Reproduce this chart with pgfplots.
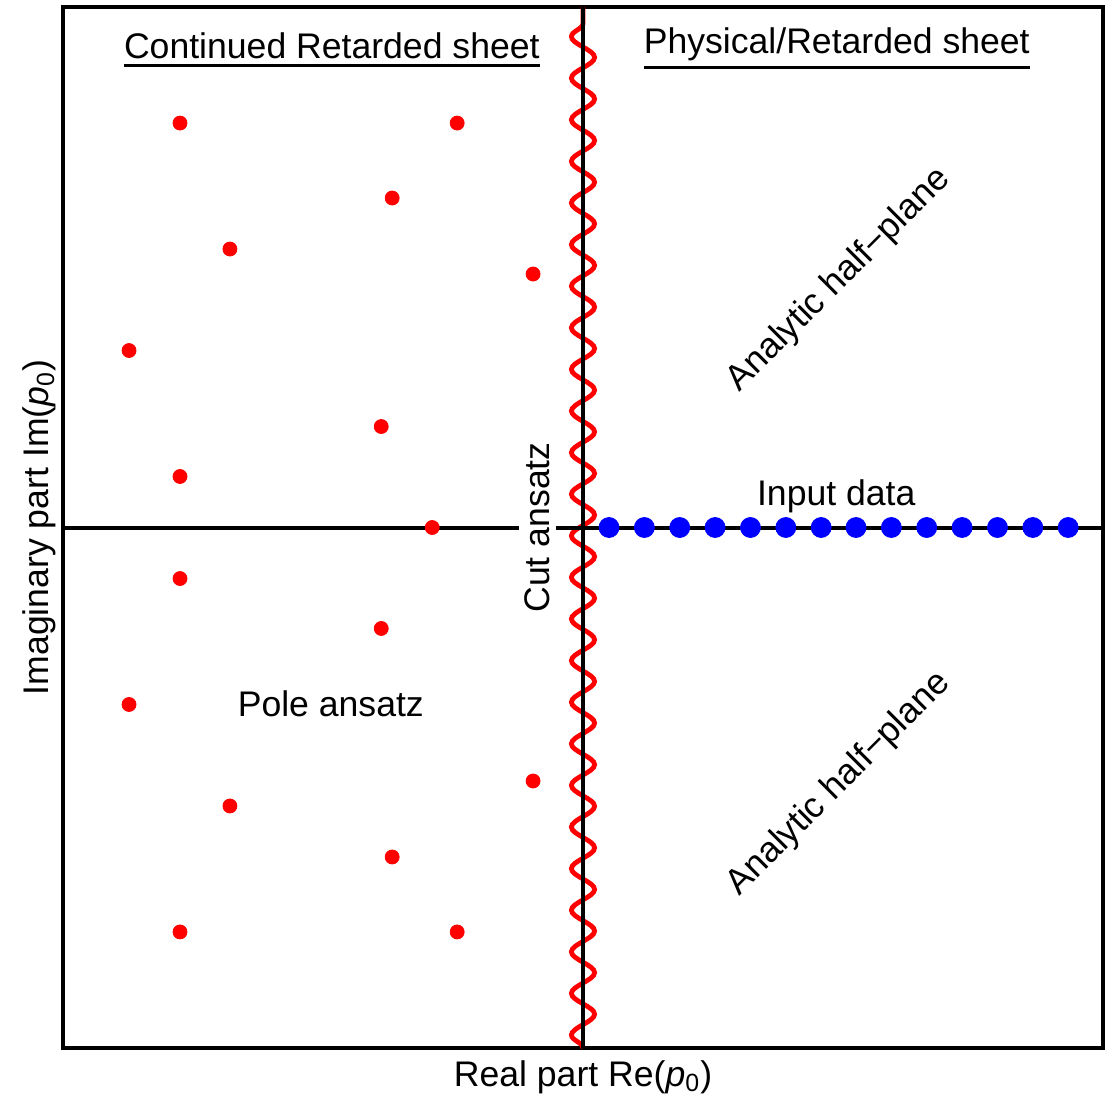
\documentclass[border=0pt]{standalone}
\usepackage{fontspec}
\setmainfont{Liberation Sans}
\usepackage{pgfplots}
\pgfplotsset{compat=1.18}
\usetikzlibrary{decorations.pathmorphing}

\newcommand{\labelfont}{\fontsize{17.8}{21}\selectfont}
% underline set just below the text's depth
\newcommand{\ul}[1]{\setbox0=\hbox{#1}\vtop{\copy0\kern2.5pt\hrule height 1.5pt}}

\begin{document}
\begin{tikzpicture}
\begin{axis}[
  name=ax,
  scale only axis,
  width=520pt, height=520.5pt,
  xmin=-1, xmax=1, ymin=-1, ymax=1,
  xtick=\empty, ytick=\empty,
  axis line style={line width=1.75pt},
  label style={font=\labelfont},
  xlabel={Real part Re(\textit{p}\textsubscript{0})},
  ylabel={Imaginary part Im(\textit{p}\textsubscript{0})},
  xlabel style={at={(axis description cs:0.5,-0.0365)}, anchor=base},
  ylabel style={at={(axis description cs:-0.0138,0.5)}, anchor=base},
]
% branch cut along the imaginary axis
\addplot[red, line width=2.4pt, decorate,
  decoration={snake, amplitude=5.8pt, segment length=20.8pt}]
  coordinates {(0,-1) (0,1)};
% real and imaginary axes
\addplot[black, line width=2pt] coordinates {(0,-1) (0,1)};
\addplot[black, line width=2pt] coordinates {(-1,0) (1,0)};

\node[font=\labelfont, rotate=90, anchor=base, fill=white, inner sep=3pt]
  at (axis cs:-0.0635,0) {Cut ansatz};

% poles on the continued sheet
\addplot[only marks, mark=*, mark size=3.5pt, color=red, mark options={draw=none, fill=red}]
  coordinates {
  (-0.775,0.777) (-0.242,0.777) (-0.367,0.633) (-0.679,0.535)
  (-0.096,0.487) (-0.873,0.340) (-0.388,0.194) (-0.775,0.098)
  (-0.290,0.000)
  (-0.775,-0.098) (-0.388,-0.194) (-0.873,-0.340) (-0.096,-0.487)
  (-0.679,-0.535) (-0.367,-0.633) (-0.775,-0.777) (-0.242,-0.777)
  };

% input data on the real axis
\addplot[only marks, mark=*, mark size=5pt, color=blue, mark options={draw=none, fill=blue}]
  coordinates {
  (0.050,0) (0.118,0) (0.186,0) (0.254,0) (0.322,0) (0.390,0) (0.458,0)
  (0.525,0) (0.593,0) (0.661,0) (0.729,0) (0.797,0) (0.865,0) (0.933,0)
  };

\node[font=\labelfont, anchor=base] at (axis cs:-0.483,0.901) {\ul{Continued Retarded sheet}};
\node[font=\labelfont, anchor=base] at (axis cs:0.488,0.910) {\ul{Physical/Retarded sheet}};
\node[font=\labelfont, anchor=base] at (axis cs:0.487,0.043) {Input data};
\node[font=\labelfont, anchor=base] at (axis cs:-0.485,-0.3635) {Pole ansatz};
\node[font=\labelfont, rotate=45] at (axis cs:0.492,0.475) {Analytic half−plane};
\node[font=\labelfont, rotate=45] at (axis cs:0.492,-0.493) {Analytic half−plane};
\end{axis}
\pgfresetboundingbox
\path ([xshift=-31.5pt,yshift=-25pt]ax.south west) rectangle ([xshift=3.5pt,yshift=3.5pt]ax.north east);
\end{tikzpicture}
\end{document}
